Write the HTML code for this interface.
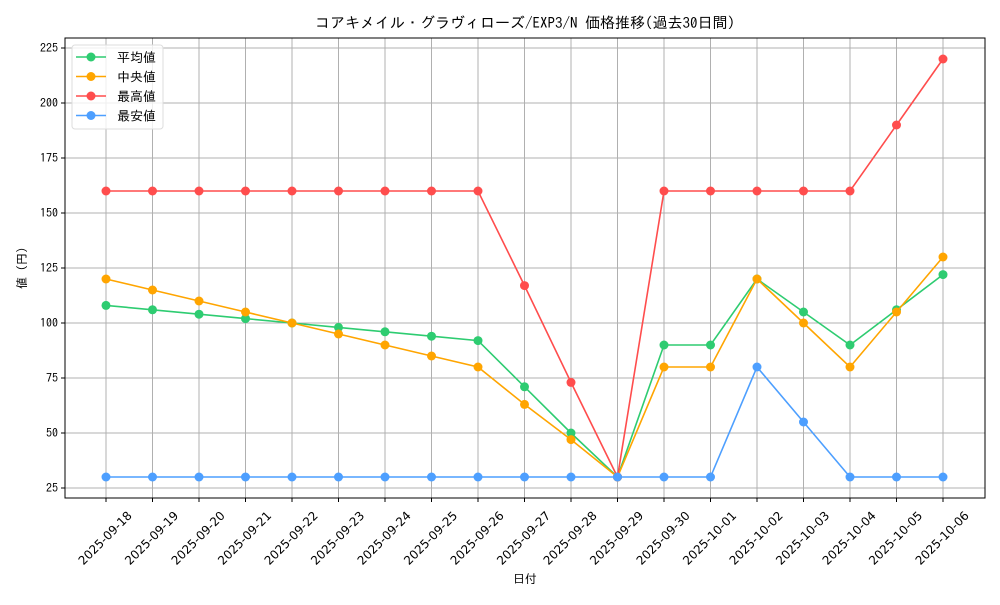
<!DOCTYPE html>
<html><head><meta charset="utf-8"><style>
body{margin:0;background:#fff}
svg text{font-family:"IPAGothic","Noto Sans CJK JP",sans-serif;fill:#000}
svg text.xt{font-family:"DejaVu Sans",sans-serif}
</style></head><body>
<svg id="c" width="1000" height="600">
<rect width="1000" height="600" fill="#fff"/>
</svg>
<script>
const dates=["2025-09-18","2025-09-19","2025-09-20","2025-09-21","2025-09-22","2025-09-23","2025-09-24","2025-09-25","2025-09-26","2025-09-27","2025-09-28","2025-09-29","2025-09-30","2025-10-01","2025-10-02","2025-10-03","2025-10-04","2025-10-05","2025-10-06"];
const avgVals=[108,106,104,102,100,98,96,94,92,71,50,30,90,90,120,105,90,106,122];
const medVals=[120,115,110,105,100,95,90,85,80,63,47,30,80,80,120,100,80,105,130];
const maxVals=[160,160,160,160,160,160,160,160,160,117,73,30,160,160,160,160,160,190,220];
const minVals=[30,30,30,30,30,30,30,30,30,30,30,30,30,30,80,55,30,30,30];
const yTicks=[25,50,75,100,125,150,175,200,225];
const seriesNames=["平均値","中央値","最高値","最安値"];
const NS="http://www.w3.org/2000/svg";
const svg=document.getElementById('c');
const L=65,R=985,T=38,B=498;
const x=i=>106+i*(943-106)/(dates.length-1);
const y=v=>488-(v-25)*2.2;
function mk(t,a,p){const e=document.createElementNS(NS,t);for(const k in a)e.setAttribute(k,a[k]);(p||svg).appendChild(e);return e;}
dates.forEach((d,i)=>{
 const g=mk('line',{x1:x(i),x2:x(i),y1:T,y2:B,stroke:'#b0b0b0','stroke-width':1});
 
 
 mk('line',{x1:x(i),x2:x(i),y1:B,y2:B+4,stroke:'#000'});
 const t=mk('text',{x:0,y:0,'font-size':12,'text-anchor':'middle','class':'xt',transform:`translate(${x(i)+2},${541}) rotate(-45)`});
 t.textContent=d;
 
 
});
yTicks.forEach(v=>{
 const g=mk('line',{x1:L,x2:R,y1:y(v),y2:y(v),stroke:'#b0b0b0','stroke-width':1});
 
 
 mk('line',{x1:L-4,x2:L,y1:y(v),y2:y(v),stroke:'#000'});
 const t=mk('text',{x:L-7,y:y(v)+4,'font-size':12,'text-anchor':'end'});
 t.textContent=v;
 
 
});
const series=[[avgVals,'#2ecc71'],[medVals,'#ffa500'],[maxVals,'#ff4d4d'],[minVals,'#4d9fff']];
const names=['series-average','series-median','series-max','series-min'];
series.forEach(([vals,col],si)=>{
 const g=mk('g',{});
 
 
 mk('polyline',{points:vals.map((v,i)=>x(i)+','+y(v)).join(' '),fill:'none',stroke:col,'stroke-width':1.6},g);
 vals.forEach((v,i)=>{const c=mk('circle',{cx:x(i),cy:y(v),r:4.5,fill:col},g);
  
  });
});
const fr=mk('rect',{x:L,y:T,width:R-L,height:B-T,fill:'none',stroke:'#000','stroke-width':1});


const lg=mk('g',{});


mk('rect',{x:72,y:45,width:91,height:84,rx:3,fill:'#fff','fill-opacity':0.8,stroke:'#ddd'},lg);
series.forEach(([v,col],i)=>{
 const yy=57+i*19.5;
 mk('line',{x1:76,x2:106,y1:yy,y2:yy,stroke:col,'stroke-width':1.6},lg);
 mk('circle',{cx:91,cy:yy,r:4.5,fill:col},lg);
 const t=mk('text',{x:117,y:yy+5,'font-size':13},lg);
 t.textContent=seriesNames[i];
 
 
});
const ti=mk('text',{x:525,y:28,'font-size':15,'text-anchor':'middle'});
ti.textContent='コアキメイル・グラヴィローズ/EXP3/N 価格推移(過去30日間)';


const xt=mk('text',{x:525,y:583,'font-size':12,'text-anchor':'middle'});
xt.textContent='日付';


const yt=mk('text',{x:0,y:0,'font-size':12,'text-anchor':'middle',transform:'translate(26,268) rotate(-90)'});
yt.textContent='値 (円)';


</script>
</body></html>
